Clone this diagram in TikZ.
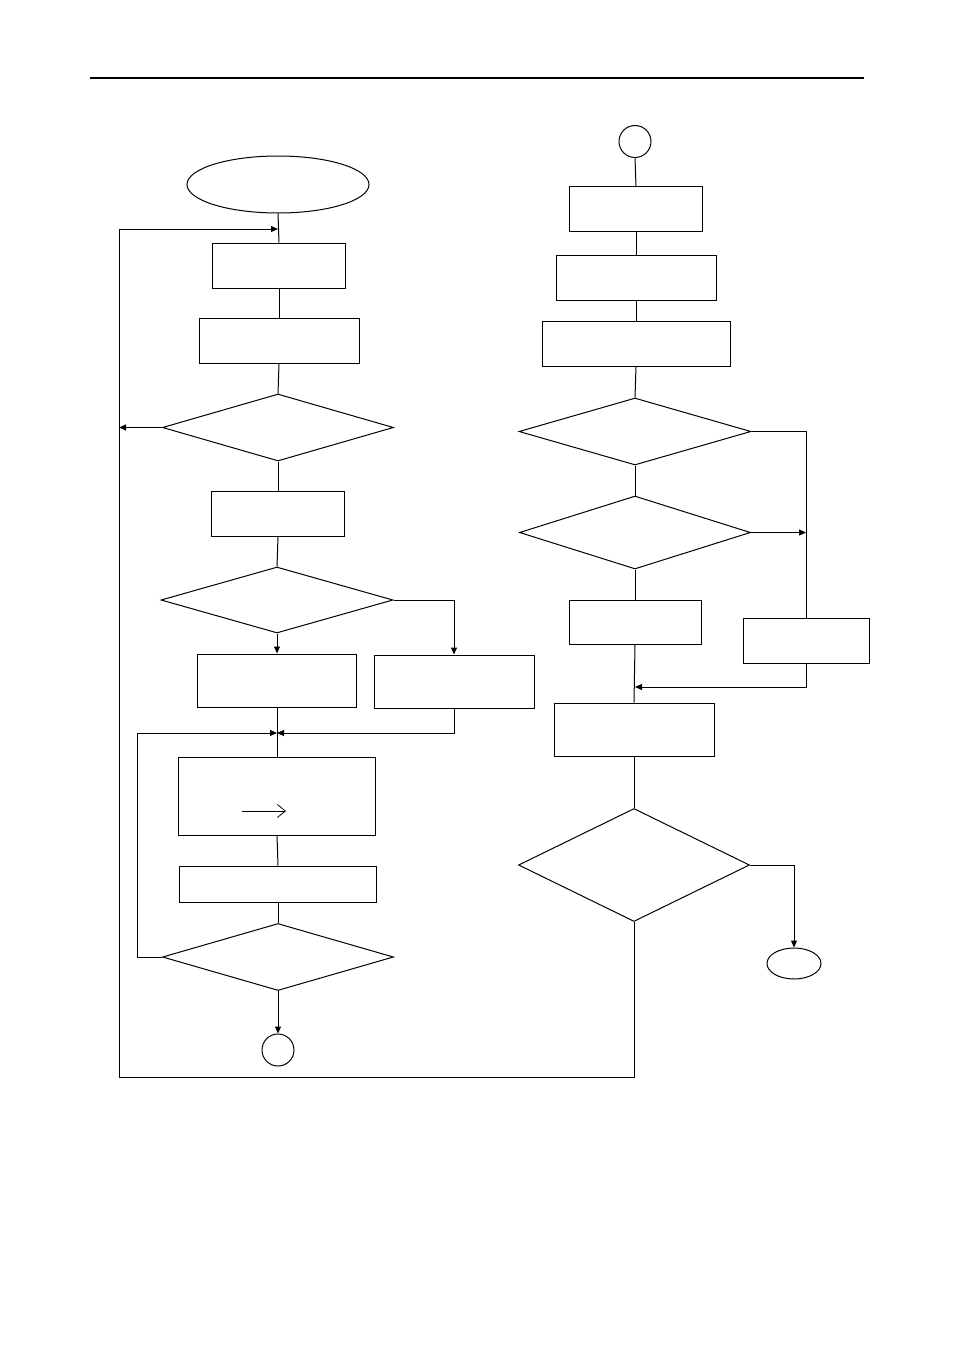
\documentclass[tikz,border=0pt]{standalone}
\usetikzlibrary{positioning}
\usetikzlibrary{shapes.geometric}
\usetikzlibrary{arrows.meta}

\tikzset{
  box/.style={draw, rectangle, inner sep=0pt},
  cond/.style={draw, diamond, inner sep=0pt},
  term/.style={draw, ellipse, inner sep=0pt},
  joint/.style={draw, circle, inner sep=0pt, minimum size=32pt},
  arr/.style={-{Triangle[length=7pt,width=6pt]}},
}

\begin{document}
\begin{tikzpicture}[x=1pt,y=-1pt,line width=1pt]
  \useasboundingbox (0,0) rectangle (954,1351);
  \draw[line width=2.2pt] (90,78) -- (864,78);

  % left column
  \node[term, minimum width=182, minimum height=57] (start) at (278,184.5) {};
  \node[box, minimum width=133, minimum height=45] (init) at (279,265.5) {};
  \node[box, minimum width=160, minimum height=45] (read) at (279,340.5) {};
  \node[cond, minimum width=231, minimum height=67] (chk1) at (278,427.5) {};
  \node[box, minimum width=133, minimum height=45] (calc) at (278,513.5) {};
  \node[cond, minimum width=232, minimum height=66] (chk2) at (277,600) {};
  \node[box, minimum width=159, minimum height=53] (yes2) at (277,680.5) {};
  \node[box, minimum width=160, minimum height=53] (no2) at (454,681.5) {};
  \node[box, minimum width=197, minimum height=78] (move) at (277,796) {};
  \node[box, minimum width=197, minimum height=36] (next) at (278,884) {};
  \node[cond, minimum width=231, minimum height=67] (chk3) at (278,957) {};
  \node[joint] (outA) at (278,1050) {};

  \coordinate (loopTL) at (119,229);
  \coordinate (loopBL) at (119,1077);
  \coordinate (loopIn) at (137,733);
  \coordinate (join) at (277,733);

  \draw (start.south) -- (init.north);
  \draw (init.south) -- (read.north);
  \draw (read.south) -- (chk1.north);
  \draw[arr] (chk1.west) -- (chk1.west -| loopTL);
  \draw (chk1.south) -- (calc.north);
  \draw (calc.south) -- (chk2.north);
  \draw[arr] (chk2.south) -- (yes2.north);
  \draw[arr] (chk2.east) -| (no2.north);
  \draw (yes2.south) -- (move.north);
  \draw[arr] (no2.south) |- (join);
  \draw[arr] (chk3.west) -| (loopIn) -- (join);
  \draw[-{Straight Barb[length=8pt,width=13pt]}, line width=0.8pt] (242,811) -- (286,811);
  \draw (move.south) -- (next.north);
  \draw (next.south) -- (chk3.north);
  \draw[arr] (chk3.south) -- (outA.north);

  % right column
  \node[joint] (inA) at (635,141.5) {};
  \node[box, minimum width=133, minimum height=44] (stepA) at (636,209) {};
  \node[box, minimum width=160, minimum height=45] (stepB) at (636,277.5) {};
  \node[box, minimum width=188, minimum height=45] (stepC) at (636,343.5) {};
  \node[cond, minimum width=232, minimum height=67] (chk4) at (635,431.5) {};
  \node[cond, minimum width=231, minimum height=73] (chk5) at (635,532.5) {};
  \node[box, minimum width=132, minimum height=44] (stepD) at (635,622) {};
  \node[box, minimum width=126, minimum height=45] (stepE) at (806,640.5) {};
  \node[box, minimum width=160, minimum height=53] (stepF) at (634,729.5) {};
  \node[cond, minimum width=231, minimum height=113] (chk6) at (634,865) {};
  \node[term, minimum width=54, minimum height=31] (stop) at (794,963.5) {};

  \coordinate (join2) at (635,687);

  \draw (inA.south) -- (stepA.north);
  \draw (stepA.south) -- (stepB.north);
  \draw (stepB.south) -- (stepC.north);
  \draw (stepC.south) -- (chk4.north);
  \draw (chk4.south) -- (chk5.north);
  \draw (chk4.east) -| (stepE.north);
  \draw[arr] (chk5.east) -- (chk5.east -| stepE.north);
  \draw (chk5.south) -- (stepD.north);
  \draw (stepD.south) -- (stepF.north);
  \draw[arr] (stepE.south) |- (join2);
  \draw (stepF.south) -- (chk6.north);
  \draw[arr] (chk6.east) -| (stop.north);

  % return loop
  \draw[arr] (chk6.south) |- (loopBL) -- (loopTL) -- (start.south |- loopTL);
\end{tikzpicture}
\end{document}
